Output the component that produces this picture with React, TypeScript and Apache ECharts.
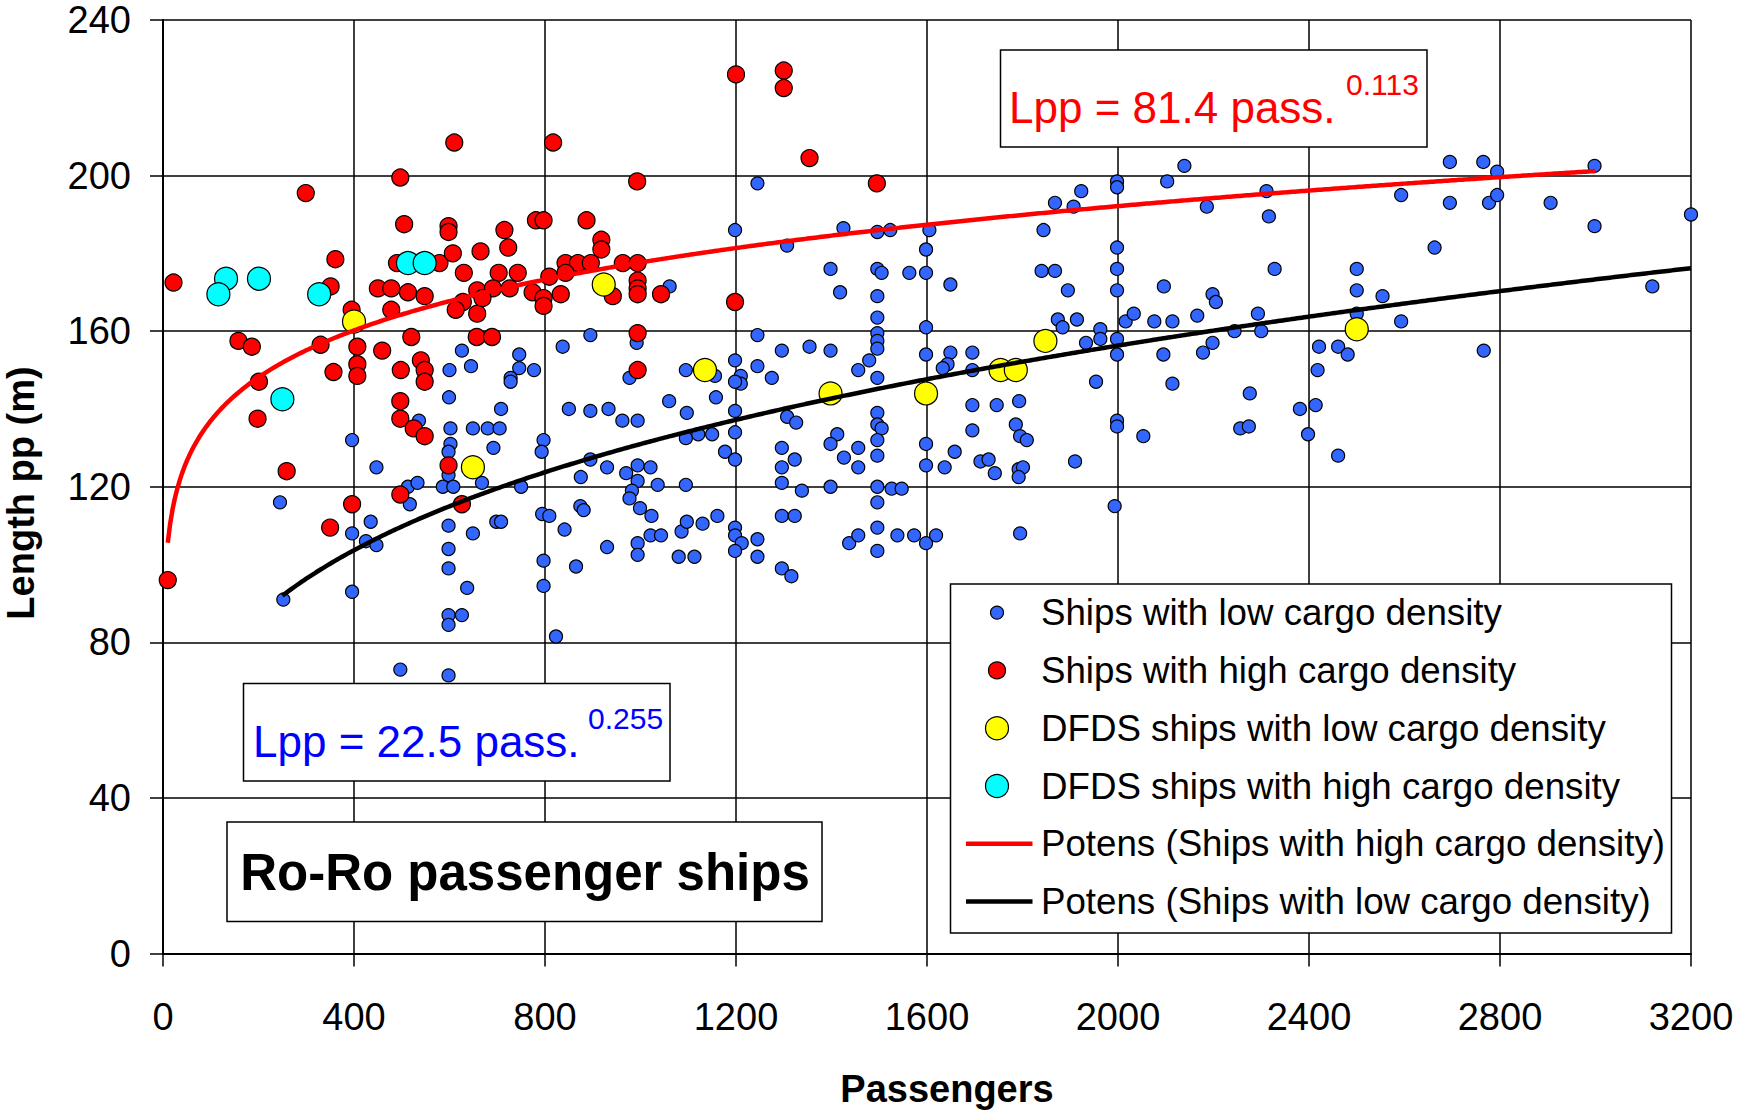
import React, { useEffect, useRef } from "react";
import * as echarts from "echarts";

const FONT = '"Liberation Sans", Arial, Helvetica, sans-serif';

// Passengers vs length between perpendiculars (m)
const lowDensity: [number, number][] = [
  [626, 155], [645, 151], [746, 154], [746, 150.5], [777, 150], [728, 148], [728, 147], [837, 156],
  [600, 150], [599, 143], [708, 140], [850, 140], [536, 137], [602, 135], [649, 135], [680, 135],
  [705, 135], [602, 131], [598, 129], [692, 130], [797, 132], [793, 129], [396, 132], [447, 125],
  [598, 123], [586, 120], [608, 120], [513, 120], [533, 121], [517, 115.5], [668, 121], [750, 120],
  [245, 116], [435, 111], [396, 108], [425, 106], [447, 105], [598, 110], [649, 108], [698, 111],
  [708, 111], [794, 113], [809, 112.5], [841, 109], [598, 104], [598, 99], [797, 101], [797, 94.5],
  [252, 91], [396, 93], [637, 94], [598, 87], [598, 84.5], [626, 87], [823, 81.5], [497, 73], [598, 71.5],
  [1245, 198], [1198, 186], [1307, 182], [1425, 186.5], [1496, 185.5], [1523, 186], [1605, 186],
  [1598, 181], [1398, 176], [1496, 176], [1505, 175], [1563, 175], [1598, 175], [1649, 172],
  [1418, 170], [1496, 169], [1496, 163.5], [1598, 161], [1061, 171.5], [1245, 159], [895, 159],
  [992, 157], [1496, 159.5], [1496, 157.5], [1496, 155.5], [1598, 154], [1296, 155], [1354, 156],
  [1398, 155], [1649, 154.5], [1643, 151.5], [1633, 150.5], [1479, 152.5], [1456, 150], [1496, 148],
  [1198, 152.5], [1245, 151], [1275, 148], [1210, 148.5], [1210, 146.5], [1198, 147], [1095, 150],
  [1156, 148.5], [977, 148], [1158, 143], [1060, 142], [1097, 139], [1198, 139.5], [1198, 134],
  [895, 139.5], [933, 140], [962, 137], [994, 137], [1307, 138], [1326, 136.5], [1496, 139],
  [1496, 136], [1505, 135], [1412, 133.5], [1398, 131], [1496, 132], [1456, 130], [1496, 128],
  [1598, 131], [1658, 129], [1095, 132.5], [1121, 133.5], [1150, 133.5], [1177, 129], [1198, 127],
  [1296, 130], [1323, 127], [1296, 125], [1426, 127.5], [1456, 125], [1598, 125.5], [1637, 125],
  [895, 127], [875, 122.5], [930, 125], [970, 123.5], [994, 125.5], [1021, 125], [994, 121.5],
  [1036, 120.5], [1095, 120.5], [982, 119], [977, 117], [1296, 121], [1338, 119], [1398, 120],
  [1496, 120], [1526, 119.5], [1547, 119.5], [1496, 116], [874, 115], [881, 114], [999, 114.5],
  [1023, 112.5], [930, 104.5], [994, 105.5], [994, 102.5], [1021, 107.5], [1043, 107.5], [1086, 108.5],
  [1097, 111], [1130, 110.5], [1161, 112.5], [1198, 109.5], [1198, 107.5], [1212, 105.5], [1245, 106.5],
  [1198, 103.5], [1245, 102], [1080, 102], [1113, 102], [1296, 112.5], [1323, 112.5], [1296, 99],
  [1316, 97], [1437, 105.5], [1456, 107.5], [1496, 109.5], [1496, 103.5], [1538, 107.5], [1573, 107.5],
  [1598, 105.5], [1619, 107.5], [865, 99.5],
  [2139, 202.5], [2103, 198.5], [1998, 198.5], [1998, 197], [1923, 196], [1868, 193], [1907, 192],
  [2186, 192], [2311, 196], [2316, 189.5], [1844, 186], [1998, 181.5], [1998, 176], [1840, 175.5],
  [1868, 175.5], [2328, 176], [1895, 170.5], [1998, 170.5], [2096, 171.5], [2198, 169.5], [2205, 167.5],
  [2500, 176], [2500, 170.5], [1874, 163], [1884, 161], [1914, 163], [2016, 162.5], [2033, 164.5],
  [2076, 162.5], [2114, 162.5], [2166, 164], [2293, 164.5], [2244, 160], [2300, 160], [2500, 164.5],
  [1963, 160.5], [1963, 158], [1933, 157], [1998, 158], [1998, 154], [2095, 154], [2178, 154.5],
  [2198, 157], [1695, 154.5], [1695, 150], [1954, 147], [2114, 146.5], [2421, 156], [2461, 156],
  [2481, 154], [2418, 150], [1695, 141], [1746, 141], [1793, 142], [1695, 134.5], [1786, 136],
  [1795, 133], [1809, 132], [2276, 144], [2381, 140], [2414, 141], [2398, 133.5], [2256, 135],
  [2274, 135.5], [1998, 137], [1998, 135.5], [2053, 133], [2461, 128], [1712, 126.5], [1729, 127],
  [1742, 123.5], [1792, 124.5], [1801, 125], [1792, 122.5], [1910, 126.5], [1993, 115], [1795, 108],
  [2695, 203.5], [2765, 203.5], [2794, 201], [2998, 202.5], [2593, 195], [2695, 193], [2777, 193],
  [2794, 195], [2906, 193], [2998, 187], [3200, 190], [2663, 181.5], [2554, 169], [2593, 162.5],
  [3119, 171.5], [2766, 155],
];

const highDensity: [number, number][] = [
  [610, 208.5], [817, 208.5], [497, 199.5], [299, 195.5], [505, 187.5], [598, 187], [598, 185.5],
  [715, 186], [781, 188.5], [797, 188.5], [723, 181.5], [361, 178.5], [490, 177.5], [579, 177.5],
  [607, 180], [665, 180.5], [843, 177.5], [630, 175], [703, 175], [743, 175], [22, 172.5], [351, 171.5],
  [450, 171], [478, 171], [513, 170], [548, 169], [658, 170.5], [691, 171], [726, 171], [774, 170],
  [809, 174], [797, 168.5], [797, 166.5], [833, 169.5], [628, 167.5], [613, 165.5], [658, 164.5],
  [669, 168.5], [478, 165.5], [395, 165.5], [158, 157.5], [186, 156], [330, 156.5], [407, 156],
  [407, 151.5], [407, 148.5], [459, 155], [520, 158.5], [657, 158.5], [689, 158.5], [201, 147],
  [357, 149.5], [498, 150], [540, 152.5], [548, 150], [548, 147], [497, 142], [497, 137.5], [525, 135],
  [548, 133], [198, 137.5], [259, 124], [598, 125.5], [497, 118], [396, 115.5], [626, 115.5],
  [350, 109.5], [10, 96],
  [1354, 204.5], [993, 198.5], [1495, 198], [887, 188.5], [918, 183.5], [918, 181], [869, 177.5],
  [896, 177.5], [963, 177.5], [994, 177.5], [994, 173], [994, 171], [994, 169.5], [942, 169],
  [1043, 169.5], [1198, 167.5], [994, 159.5], [994, 150], [843, 175],
  [1200, 226], [1300, 227], [1300, 222.5],
];

const dfdsLow: [number, number][] = [
  [400, 162.5], [649, 125], [923, 172], [1135, 150], [1398, 144], [1598, 144], [1754, 150],
  [1786, 150], [1848, 157.5], [2500, 160.5],
];

const dfdsHigh: [number, number][] = [
  [132, 173.5], [116, 169.5], [201, 173.5], [327, 169.5], [513, 177.5], [548, 177.5], [250, 142.5],
];

// Power-law fits Lpp = a * pass^b, as stated in the formula boxes
const highFit = { a: 81.4, b: 0.113, from: 10, to: 3000 };
const lowFit = { a: 22.5, b: 0.255, from: 250, to: 3200 };

const seriesNames = [
  "Ships with low cargo density",
  "Ships with high cargo density",
  "DFDS ships with low cargo density",
  "DFDS ships with high cargo density",
  "Potens (Ships with high cargo density)",
  "Potens (Ships with low cargo density)",
];

const COLORS = ["#3366ff", "#ff0000", "#ffff00", "#00ffff", "#ff0000", "#000000"];
const SIZES = [13, 17, 23, 23];

function fitCurve(fit: { a: number; b: number; from: number; to: number }): [number, number][] {
  const pts: [number, number][] = [];
  for (let x = fit.from; x < fit.to; x += 5) pts.push([x, fit.a * Math.pow(x, fit.b)]);
  pts.push([fit.to, fit.a * Math.pow(fit.to, fit.b)]);
  return pts;
}

function buildOption(): any {
  const scatterSets = [lowDensity, highDensity, dfdsLow, dfdsHigh];
  const scatters = scatterSets.map((data, i) => ({
    type: "scatter",
    name: seriesNames[i],
    data,
    symbol: "circle",
    symbolSize: SIZES[i],
    itemStyle: { color: COLORS[i], borderColor: "#000", borderWidth: 1.2, opacity: 1 },
    emphasis: { disabled: true },
    z: 2 + i,
  }));
  const lines = [fitCurve(highFit), fitCurve(lowFit)].map((data, i) => ({
    type: "line",
    name: seriesNames[4 + i],
    data,
    showSymbol: false,
    symbol: "none",
    smooth: false,
    lineStyle: { color: COLORS[4 + i], width: 4.5 },
    emphasis: { disabled: true },
    z: 10,
  }));

  // legend box drawn by hand so each marker keeps its own size
  const legendTop = 612.6;
  const legendStep = 57.8;
  const legendItems: any[] = [
    {
      type: "rect", z: 100,
      shape: { x: 950.5, y: 584, width: 721, height: 349 },
      style: { fill: "#fff", stroke: "#000", lineWidth: 1.5 },
    },
  ];
  seriesNames.forEach((name, i) => {
    const cy = legendTop + i * legendStep;
    if (i < 4) {
      legendItems.push({
        type: "circle", z: 101,
        shape: { cx: 997, cy, r: SIZES[i] / 2 },
        style: { fill: COLORS[i], stroke: "#000", lineWidth: 1.2 },
      });
    } else {
      legendItems.push({
        type: "line", z: 101,
        shape: { x1: 966, y1: cy, x2: 1032.5, y2: cy },
        style: { stroke: COLORS[i], lineWidth: 4.5 },
      });
    }
    legendItems.push({
      type: "text", z: 101,
      x: 1041,
      y: cy,
      style: { text: name, fontSize: 36.7, fontFamily: FONT, fill: "#000", align: "left", verticalAlign: "middle" },
    });
  });

  const graphic: any[] = [
    ...legendItems,
    // high-density fit formula
    {
      type: "rect", z: 100,
      shape: { x: 1000.5, y: 50, width: 426.5, height: 97 },
      style: { fill: "#fff", stroke: "#000", lineWidth: 1.5 },
    },
    {
      type: "text", z: 101, x: 1009, y: 107,
      style: { text: `Lpp = ${highFit.a} pass.`, fontSize: 44, fontFamily: FONT, fill: "#ff0000", align: "left", verticalAlign: "middle" },
    },
    {
      type: "text", z: 101, x: 1346, y: 84,
      style: { text: String(highFit.b), fontSize: 30, fontFamily: FONT, fill: "#ff0000", align: "left", verticalAlign: "middle" },
    },
    // low-density fit formula
    {
      type: "rect", z: 100,
      shape: { x: 243.5, y: 683.5, width: 426.5, height: 97.5 },
      style: { fill: "#fff", stroke: "#000", lineWidth: 1.5 },
    },
    {
      type: "text", z: 101, x: 253, y: 741,
      style: { text: `Lpp = ${lowFit.a} pass.`, fontSize: 44, fontFamily: FONT, fill: "#0000ff", align: "left", verticalAlign: "middle" },
    },
    {
      type: "text", z: 101, x: 588, y: 718,
      style: { text: String(lowFit.b), fontSize: 30, fontFamily: FONT, fill: "#0000ff", align: "left", verticalAlign: "middle" },
    },
    // chart title box
    {
      type: "rect", z: 100,
      shape: { x: 227, y: 822, width: 595, height: 99.5 },
      style: { fill: "#fff", stroke: "#000", lineWidth: 1.5 },
    },
    {
      type: "text", z: 101, x: 525, y: 872,
      style: { text: "Ro-Ro passenger ships", fontSize: 51, fontWeight: "bold", fontFamily: FONT, fill: "#000", align: "center", verticalAlign: "middle" },
    },
    // axis titles
    {
      type: "text", z: 101, x: 947, y: 1089,
      style: { text: "Passengers", fontSize: 38, fontWeight: "bold", fontFamily: FONT, fill: "#000", align: "center", verticalAlign: "middle" },
    },
    {
      type: "text", z: 101, x: 21, y: 493, rotation: Math.PI / 2,
      style: { text: "Length pp (m)", fontSize: 38, fontWeight: "bold", fontFamily: FONT, fill: "#000", align: "center", verticalAlign: "middle" },
    },
  ];

  const axisCommon = {
    type: "value",
    axisLine: { show: true, onZero: false, lineStyle: { color: "#000", width: 2 } },
    axisTick: { show: true, inside: false, length: 13, lineStyle: { color: "#000", width: 1.5 } },
    splitLine: { show: true, lineStyle: { color: "#000", width: 1.5 } },
  };

  return {
    animation: false,
    backgroundColor: "#fff",
    grid: { left: 163, top: 20, width: 1528, height: 933.5, containLabel: false },
    xAxis: {
      ...axisCommon,
      min: 0, max: 3200, interval: 400,
      axisLabel: {
        color: "#000", fontSize: 38, fontFamily: FONT, margin: 44, lineHeight: 38,
        showMinLabel: true, showMaxLabel: true, hideOverlap: false,
        formatter: (v: number) => String(v),
      },
    },
    yAxis: {
      ...axisCommon,
      min: 0, max: 240, interval: 40,
      axisLabel: {
        color: "#000", fontSize: 38, fontFamily: FONT, margin: 32,
        showMinLabel: true, showMaxLabel: true,
        formatter: (v: number) => String(v),
      },
    },
    series: [...scatters, ...lines],
    graphic,
  };
}

export default function App() {
  const ref = useRef<HTMLDivElement>(null);
  useEffect(() => {
    if (!ref.current) return;
    const chart = echarts.init(ref.current, null, { renderer: "svg" });
    chart.setOption(buildOption());
    return () => chart.dispose();
  }, []);
  return (
    <div
      ref={ref}
      style={{ position: "fixed", left: 0, top: 0, width: 1737, height: 1113, background: "#fff" }}
    />
  );
}
